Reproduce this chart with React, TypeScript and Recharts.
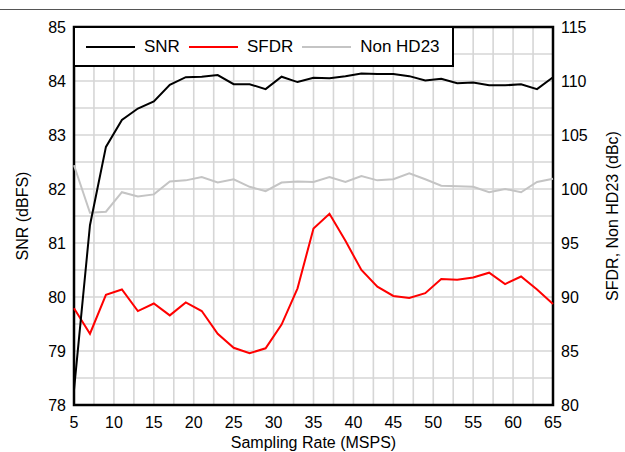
import {
  ComposedChart,
  Line,
  XAxis,
  YAxis,
  CartesianGrid,
  Legend,
  ReferenceArea,
  Label,
} from 'recharts';

const samplingRate = [5, 7, 9, 11, 13, 15, 17, 19, 21, 23, 25, 27, 29, 31, 33, 35, 37, 39, 41, 43, 45, 47, 49, 51, 53, 55, 57, 59, 61, 63, 65];

const snr = [
  78.28, 81.33, 82.78, 83.28, 83.49, 83.62, 83.93, 84.07, 84.08, 84.11, 83.94, 83.94, 83.85, 84.08, 83.98, 84.06,
  84.05, 84.09, 84.14, 84.13, 84.13, 84.09, 84.01, 84.04, 83.96, 83.97, 83.92, 83.92, 83.94, 83.85, 84.07,
];

const sfdr = [
  88.95, 86.6, 90.2, 90.7, 88.7, 89.4, 88.3, 89.5, 88.7, 86.6, 85.3, 84.8, 85.25, 87.45, 90.8, 96.35,
  97.7, 95.2, 92.5, 90.96, 90.1, 89.9, 90.35, 91.67, 91.6, 91.8, 92.25, 91.2, 91.9, 90.7, 89.35,
];

const nonHd23 = [
  102.2, 97.8, 97.9, 99.7, 99.3, 99.5, 100.7, 100.8, 101.1, 100.6, 100.9, 100.2, 99.8, 100.6, 100.7, 100.65,
  101.1, 100.65, 101.2, 100.8, 100.9, 101.45, 100.9, 100.3, 100.25, 100.2, 99.7, 100.0, 99.7, 100.65, 100.95,
];

const xTicks = [5, 10, 15, 20, 25, 30, 35, 40, 45, 50, 55, 60, 65];
const snrTicks = [78, 79, 80, 81, 82, 83, 84, 85];
const dbcTicks = [80, 85, 90, 95, 100, 105, 110, 115];
const xGrid = [7.5, 10, 12.5, 15, 17.5, 20, 22.5, 25, 27.5, 30, 32.5, 35, 37.5, 40, 42.5, 45, 47.5, 50, 52.5, 55, 57.5, 60, 62.5];
const yGrid = [78.5, 79, 79.5, 80, 80.5, 81, 81.5, 82, 82.5, 83, 83.5, 84, 84.5];

const series = [
  { key: 'SNR', color: '#000000' },
  { key: 'SFDR', color: '#ff0000' },
  { key: 'Non HD23', color: '#c4c4c4' },
];

const FONT = '"Liberation Sans", Arial, sans-serif';

function ChartLegend() {
  return (
    <div
      style={{
        boxSizing: 'border-box',
        width: 381,
        height: 41,
        border: '2px solid #000',
        background: '#fff',
        display: 'flex',
        alignItems: 'center',
        paddingLeft: 11,
        fontFamily: FONT,
        fontSize: 17,
        color: '#000',
      }}
    >
      {series.map((s) => (
        <div key={s.key} style={{ display: 'flex', alignItems: 'center', marginRight: 9 }}>
          <div style={{ width: 49, height: 2, background: s.color, marginRight: 9 }} />
          <span>{s.key}</span>
        </div>
      ))}
    </div>
  );
}

function SideTitle(props: any) {
  const { viewBox, value, dxFromLeft } = props;
  const x = viewBox.x + dxFromLeft;
  const y = viewBox.y + viewBox.height / 2;
  return (
    <text
      x={x}
      y={y}
      transform={`rotate(-90 ${x} ${y})`}
      textAnchor="middle"
      dominantBaseline="central"
      fontSize={16}
      fontFamily={FONT}
      fill="#000"
    >
      {value}
    </text>
  );
}

export default function App() {
  const data = samplingRate.map((rate, i) => ({
    rate,
    SNR: snr[i],
    SFDR: sfdr[i],
    'Non HD23': nonHd23[i],
  }));

  const tick = { fontSize: 16, fill: '#000', fontFamily: FONT };

  return (
    <div style={{ position: 'absolute', left: 0, top: 0, width: 625, height: 452, background: '#fff' }}>
      <div style={{ position: 'absolute', left: 0, top: 9, width: 625, height: 1, background: '#555' }} />
      <ComposedChart width={625} height={452} data={data} margin={{ top: 27, right: 0, bottom: 0, left: 0 }}>
        <CartesianGrid
          stroke="#d6d6d6"
          strokeWidth={1.6}
          verticalValues={xGrid}
          horizontalValues={yGrid}
          yAxisId="left"
        />
        <XAxis
          dataKey="rate"
          type="number"
          domain={[5, 65]}
          ticks={xTicks}
          tick={tick}
          tickLine={false}
          axisLine={false}
          tickMargin={6}
          height={47}
          interval={0}
        >
          <Label
            value="Sampling Rate (MSPS)"
            position="insideBottom"
            offset={4}
            style={{ fontSize: 16, fill: '#000', fontFamily: FONT }}
          />
        </XAxis>
        <YAxis
          yAxisId="left"
          domain={[78, 85]}
          ticks={snrTicks}
          tick={tick}
          tickLine={false}
          axisLine={false}
          width={74}
          interval={0}
        >
          <Label content={(p: any) => <SideTitle {...p} value="SNR (dBFS)" dxFromLeft={22} />} />
        </YAxis>
        <YAxis
          yAxisId="right"
          orientation="right"
          domain={[80, 115]}
          ticks={dbcTicks}
          tick={tick}
          tickLine={false}
          axisLine={false}
          width={72}
          interval={0}
        >
          <Label content={(p: any) => <SideTitle {...p} value="SFDR, Non HD23 (dBc)" dxFromLeft={59} />} />
        </YAxis>
        <Line yAxisId="right" dataKey="Non HD23" stroke="#c4c4c4" strokeWidth={2} dot={false} isAnimationActive={false} />
        <Line yAxisId="right" dataKey="SFDR" stroke="#ff0000" strokeWidth={2} dot={false} isAnimationActive={false} />
        <Line yAxisId="left" dataKey="SNR" stroke="#000000" strokeWidth={2} dot={false} isAnimationActive={false} />
        <ReferenceArea
          yAxisId="left"
          x1={5}
          x2={65}
          y1={78}
          y2={85}
          fill="none"
          stroke="#000"
          strokeWidth={2.5}
        />
        <Legend
          layout="vertical"
          align="center"
          verticalAlign="middle"
          content={() => <ChartLegend />}
          wrapperStyle={{ left: 73, top: 26, width: 'auto', height: 'auto' }}
        />
      </ComposedChart>
    </div>
  );
}
